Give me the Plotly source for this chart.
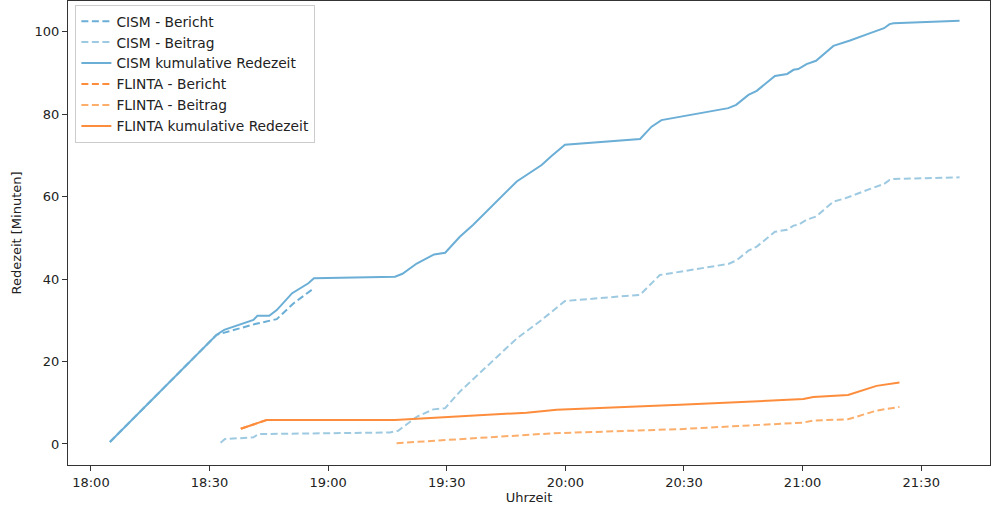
import plotly.graph_objects as go
from datetime import datetime, timedelta

BASE = datetime(2024, 1, 1, 18, 0, 0)

def t(minutes):
    return BASE + timedelta(minutes=minutes)

# CISM cumulative speaking time (minutes after 18:00, minutes)
cism_cum_min = [4.8, 31.8, 33.7, 41.1, 42.1, 45.1, 47.0, 50.9, 55.0, 56.4, 76.9, 78.8,
                82.4, 86.8, 89.6, 93.3, 96.7, 107.7, 114.0, 116.5, 119.9, 138.9, 141.8,
                144.3, 161.2, 163.2, 166.3, 168.4, 173.0, 176.1, 177.7, 178.9, 181.0,
                183.4, 187.8, 190.7, 192.0, 197.1, 200.6, 202.0, 203.0, 219.7]
cism_cum_val = [0.5, 26.5, 27.7, 30.1, 31.1, 31.1, 32.5, 36.6, 39.0, 40.2, 40.6, 41.3,
                43.8, 46.0, 46.4, 50.3, 53.2, 63.7, 67.7, 69.9, 72.6, 74.0, 77.0,
                78.6, 81.5, 82.3, 84.7, 85.7, 89.3, 89.8, 90.8, 91.0, 92.2,
                93.0, 96.6, 97.4, 97.9, 99.7, 100.9, 101.9, 102.1, 102.7]

cism_ber_min = [4.8, 31.8, 41.5, 47.0, 51.2, 56.4]
cism_ber_val = [0.5, 26.5, 29.1, 30.3, 34.1, 37.8]

cism_bei_min = [32.8, 33.9, 41.1, 42.3, 75.6, 77.7, 82.4, 86.6, 89.6, 93.3, 107.7, 114.0,
                119.9, 138.9, 143.9, 154.1, 161.2, 163.2, 166.3, 168.4, 173.0, 176.1,
                177.7, 178.9, 181.0, 183.4, 187.8, 190.7, 192.0, 197.1, 200.6, 202.0,
                203.0, 219.7]
cism_bei_val = [0.3, 1.2, 1.6, 2.4, 2.8, 3.2, 6.6, 8.4, 8.7, 12.7, 25.6, 30.1,
                34.7, 36.2, 41.0, 42.6, 43.7, 44.5, 46.9, 47.9, 51.5, 52.0,
                53.0, 53.2, 54.4, 55.2, 58.8, 59.6, 60.1, 61.9, 63.1, 64.1,
                64.3, 64.7]

flinta_ber_min = [37.9, 44.4]
flinta_ber_val = [3.7, 5.8]

flinta_bei_min = [77.3, 116.9, 149.0, 180.2, 182.7, 191.5, 198.7, 204.5]
flinta_bei_val = [0.2, 2.6, 3.6, 5.2, 5.7, 6.0, 8.1, 9.0]

flinta_cum_min = [37.9, 44.4, 76.9, 110.2, 117.8, 149.0, 180.2, 182.7, 191.5, 198.7, 204.5]
flinta_cum_val = [3.7, 5.8, 5.8, 7.6, 8.3, 9.5, 10.9, 11.4, 11.9, 14.1, 14.9]

BLUE = "#6baed6"
LBLUE = "#9ecae1"
ORANGE = "#fd8d3c"
LORANGE = "#fdae6b"
DASH = "7px,3.5px"

series = [
    ("CISM - Bericht", cism_ber_min, cism_ber_val, BLUE, DASH),
    ("CISM - Beitrag", cism_bei_min, cism_bei_val, LBLUE, DASH),
    ("CISM kumulative Redezeit", cism_cum_min, cism_cum_val, BLUE, "solid"),
    ("FLINTA - Bericht", flinta_ber_min, flinta_ber_val, ORANGE, DASH),
    ("FLINTA - Beitrag", flinta_bei_min, flinta_bei_val, LORANGE, DASH),
    ("FLINTA kumulative Redezeit", flinta_cum_min, flinta_cum_val, ORANGE, "solid"),
]

fig = go.Figure()
for name, xs, ys, color, dash in series:
    fig.add_trace(go.Scatter(
        x=[t(m) for m in xs], y=ys, mode="lines", name=name,
        line=dict(color=color, width=2, dash=dash),
    ))

font = dict(family="DejaVu Sans", size=13, color="#222222")
fig.update_layout(
    width=992, height=514,
    margin=dict(l=68, r=2, t=1, b=49, autoexpand=False),
    paper_bgcolor="white", plot_bgcolor="white",
    font=font,
    showlegend=True,
    legend=dict(
        x=0.008, y=0.992, xanchor="left", yanchor="top",
        bgcolor="rgba(255,255,255,0.8)", bordercolor="#cccccc", borderwidth=1,
        font=dict(family="DejaVu Sans", size=13.8, color="#222222"),
        tracegroupgap=0, itemwidth=30,
    ),
)
fig.update_xaxes(
    type="date", automargin=False,
    range=[t(-5.8), t(227.4)],
    tick0=t(0), dtick=30 * 60 * 1000, tickformat="%H:%M",
    showgrid=False, zeroline=False,
    showline=True, linecolor="#333333", linewidth=1, mirror=True,
    ticks="outside", ticklen=5, tickcolor="#333333",
    title=dict(text="Uhrzeit", standoff=4, font=font),
)
fig.update_yaxes(
    automargin=False,
    range=[-5.1, 107.5], tick0=0, dtick=20,
    showgrid=False, zeroline=False,
    showline=True, linecolor="#333333", linewidth=1, mirror=True,
    ticks="outside", ticklen=5, tickcolor="#333333",
    title=dict(text="Redezeit [Minuten]", standoff=10, font=font),
)

fig.write_html(
    "out.html",
    config={"displayModeBar": False},
    post_script="document.body.style.margin='0';document.body.style.overflow='hidden';",
)
